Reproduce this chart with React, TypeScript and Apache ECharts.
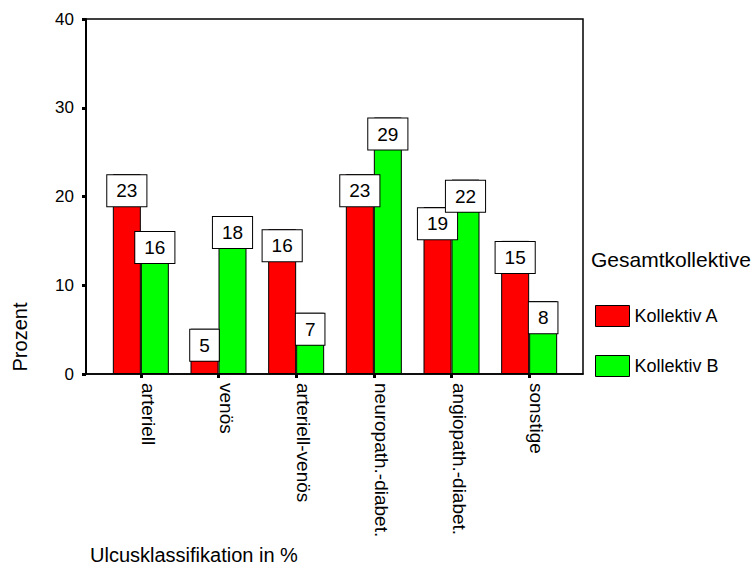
import React, { useEffect, useRef } from "react";
import * as echarts from "echarts";

const categories = ["arteriell", "venös", "arteriell-venös", "neuropath.-diabet.", "angiopath.-diabet.", "sonstige"];
const seriesNames = ["Kollektiv A", "Kollektiv B"];
const valuesA = [22.5, 5.1, 16.3, 22.5, 18.8, 15.0];
const valuesB = [16.1, 17.8, 6.9, 28.9, 21.9, 8.2];
const labelsA = ["23", "5", "16", "23", "19", "15"];
const labelsB = ["16", "18", "7", "29", "22", "8"];
const yTicks = { min: 0, max: 40, interval: 10 };
const legendTitle = "Gesamtkollektive";
const yTitle = "Prozent";
const xTitle = "Ulcusklassifikation in %";

const FONT = "'Liberation Sans', Arial, Helvetica, sans-serif";

export default function App() {
  const ref = useRef<HTMLDivElement>(null);
  useEffect(() => {
    if (!ref.current) return;
    const chart = echarts.init(ref.current, null, { renderer: "svg" });
    const labelStyle = (labels: string[]) => ({
      show: true,
      position: "insideTop",
      distance: 1,
      formatter: (p: any) => labels[p.dataIndex],
      fontFamily: FONT,
      fontSize: 19,
      color: "#000",
      backgroundColor: "#fff",
      borderColor: "#000",
      borderWidth: 1,
      padding: [6, 9, 6, 9],
    });
    chart.setOption({
      animation: false,
      backgroundColor: "#fff",
      textStyle: { fontFamily: FONT },
      grid: [
        { left: 102, right: 185, top: 19, bottom: 195 },
        { left: 86, right: 170, top: 19, bottom: 195, show: true, borderColor: "#000", borderWidth: 1.5, backgroundColor: "transparent" },
      ],
      xAxis: [
        {
          type: "category",
          gridIndex: 0,
          data: categories,
          axisLine: { show: false },
          axisTick: { show: true, alignWithLabel: true, length: 4, lineStyle: { color: "#000", width: 3 } },
          axisLabel: {
            rotate: -90,
            fontSize: 19,
            color: "#000",
            fontFamily: FONT,
            margin: 9,
            verticalAlign: "bottom",
            lineHeight: 15,
            interval: 0,
          },
        },
        {
          type: "value",
          gridIndex: 1,
          min: 0,
          max: 1,
          axisLine: { show: true, onZero: false, lineStyle: { color: "#000", width: 1.5 } },
          axisTick: { show: false },
          axisLabel: { show: false },
          splitLine: { show: false },
        },
      ],
      yAxis: [
        {
          type: "value",
          gridIndex: 0,
          min: yTicks.min,
          max: yTicks.max,
          interval: yTicks.interval,
          show: false,
          splitLine: { show: false },
        },
        {
          type: "value",
          gridIndex: 1,
          min: yTicks.min,
          max: yTicks.max,
          interval: yTicks.interval,
          axisLine: { show: true, lineStyle: { color: "#000", width: 2 } },
          axisTick: { show: true, length: 4, lineStyle: { color: "#000", width: 3 } },
          axisLabel: { fontSize: 17, color: "#000", fontFamily: FONT, margin: 12 },
          splitLine: { show: false },
        },
      ],
      legend: {
        orient: "vertical",
        left: 595,
        top: 305,
        padding: 0,
        itemWidth: 34,
        itemHeight: 21,
        itemGap: 28,
        icon: "rect",
        data: seriesNames,
        textStyle: { fontSize: 18, color: "#000", fontFamily: FONT },
        itemStyle: { borderColor: "#000", borderWidth: 1 },
      },
      graphic: [
        {
          type: "text",
          left: 591,
          top: 249,
          style: { text: legendTitle, fontSize: 21, fontFamily: FONT, fill: "#000" },
        },
        {
          type: "text",
          x: 30,
          y: 337,
          rotation: Math.PI / 2,
          style: { text: yTitle, fontSize: 20, fontFamily: FONT, fill: "#000", align: "center", verticalAlign: "bottom" },
        },
        {
          type: "text",
          x: 90,
          y: 545,
          style: { text: xTitle, fontSize: 20, fontFamily: FONT, fill: "#000", align: "left", verticalAlign: "top" },
        },
      ],
      series: [
        {
          name: seriesNames[0],
          type: "bar",
          xAxisIndex: 0,
          yAxisIndex: 0,
          data: valuesA,
          barWidth: 28,
          barGap: "0%",
          itemStyle: { color: "#ff0000", borderColor: "#000", borderWidth: 1 },
          label: labelStyle(labelsA),
        },
        {
          name: seriesNames[1],
          type: "bar",
          xAxisIndex: 0,
          yAxisIndex: 0,
          data: valuesB,
          barWidth: 28,
          barGap: "0%",
          itemStyle: { color: "#00ff00", borderColor: "#000", borderWidth: 1 },
          label: labelStyle(labelsB),
        },
      ],
    });
    return () => chart.dispose();
  }, []);
  return <div ref={ref} style={{ position: "fixed", left: 0, top: 0, width: 753, height: 569 }} />;
}
